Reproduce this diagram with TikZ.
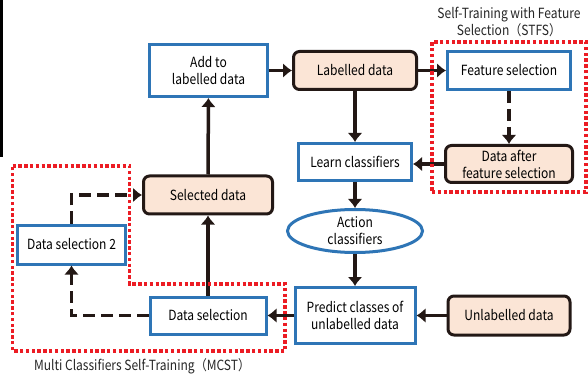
\documentclass[tikz,border=0pt]{standalone}
\usepackage{fontspec}
\setmainfont{Noto Sans CJK JP}[FakeStretch=0.86]
\usetikzlibrary{fit,positioning,shapes.geometric,arrows.meta,calc}
\definecolor{boxblue}{RGB}{46,117,182}
\definecolor{peach}{RGB}{251,229,214}
\definecolor{dotred}{RGB}{236,28,36}
\definecolor{edgeblack}{RGB}{35,24,21}

\begin{document}
\begin{tikzpicture}[font=\fontsize{14}{17}\selectfont]
 		\tikzstyle{proc}=[rectangle, draw=boxblue, line width=3pt, fill=white, align=center, minimum height=38pt, inner sep=2pt]
 		\tikzstyle{data}=[rectangle, rounded corners=6pt, draw=edgeblack, line width=3pt, fill=peach, align=center, minimum height=38pt, inner sep=2pt]
 		\tikzstyle{connect}=[-{Latex[length=9pt,width=15pt]}, line width=3.5pt, draw=edgeblack]
 		\tikzstyle{dconnect}=[connect, dash pattern=on 12pt off 6pt]
 		\tikzstyle{group}=[draw=dotred, line width=3.4pt, dash pattern=on 3.4pt off 2.4pt]
 		\tikzstyle{note}=[font=\fontsize{14}{17}\selectfont, align=center, text=black!85]
 		\useasboundingbox (0,0) rectangle (588pt,-379pt);
 		\fill[black] (0,0) rectangle (3pt,-157pt);
 		\node[proc, minimum width=118pt, minimum height=52pt] (add) at (208.5pt,-70.5pt) {Add to\\labelled data};
 		\node[data, minimum width=123pt] (lab) [right=23pt of add] {Labelled data};
 		\node[proc, minimum width=123pt] (feat) [right=28pt of lab] {Feature selection};
 		\node[proc, minimum width=113pt, minimum height=37pt] (learn) [below=51pt of lab] {Learn classifiers};
 		\node[data, minimum width=127pt, minimum height=37pt] (daf) [below=53pt of feat] {Data after\\feature selection};
 		\node[ellipse, draw=boxblue, line width=3pt, fill=white, align=center, inner sep=0pt, minimum width=135pt, minimum height=43pt] (action) [below=26pt of learn] {Action\\classifiers};
 		\node[proc, minimum width=120pt, minimum height=56pt] (predict) [below=32pt of action] {Predict classes of\\unlabelled data};
 		\node[data, minimum width=122pt, minimum height=39pt] (unlab) [right=30pt of predict] {Unlabelled data};
 		\node[proc, minimum width=116pt, minimum height=37pt] (ds) [left=26pt of predict] {Data selection};
 		\node[data, minimum width=129pt] (sel) [above=80pt of ds] {Selected data};
 		\node[proc, minimum width=108pt, minimum height=39pt] (ds2) [below left=8pt and 15pt of sel] {Data selection 2};
 		\path (add) edge [connect] (lab)
 		(lab.east) edge [connect] (lab.east -| feat.west)
 		(lab) edge [connect] (learn)
 		(feat.south) edge [dconnect] (feat.south |- daf.north)
 		(daf.west) edge [connect] (daf.west -| learn.east)
 		(learn) edge [connect] (action)
 		(action) edge [connect] (predict)
 		(unlab) edge [connect] (predict)
 		(predict) edge [connect] (ds)
 		(ds) edge [connect] (sel)
 		(sel) edge [connect] (add);
 		\draw[dconnect] (ds.west) -| (ds2.south);
 		\draw[dconnect] (ds2.north) |- (sel.west);
 		% dotted groups
 		\node[group, inner xsep=12pt, inner ysep=8pt, fit=(feat)(daf), label={[note]above:Self-Training with Feature\\Selection（STFS）}] (stfs) {};
 		\coordinate (mtl) at ($(ds2.west |- sel.north)+(-3.5pt,8.5pt)$);
 		\coordinate (mnotch) at ($(ds2.east |- ds.north)+(2.5pt,11.5pt)$);
 		\coordinate (mbr) at ($(predict.west |- ds.south)+(-8.5pt,-15.5pt)$);
 		\draw[group] (mtl) -| (mnotch) -| (mbr) -- (mbr -| mtl) -- cycle;
 		\node[note, anchor=north west] (mcst) at ($(mbr -| mtl)+(18pt,-4pt)$) {Multi Classifiers Self-Training（MCST）};
 		\end{tikzpicture}
\end{document}
